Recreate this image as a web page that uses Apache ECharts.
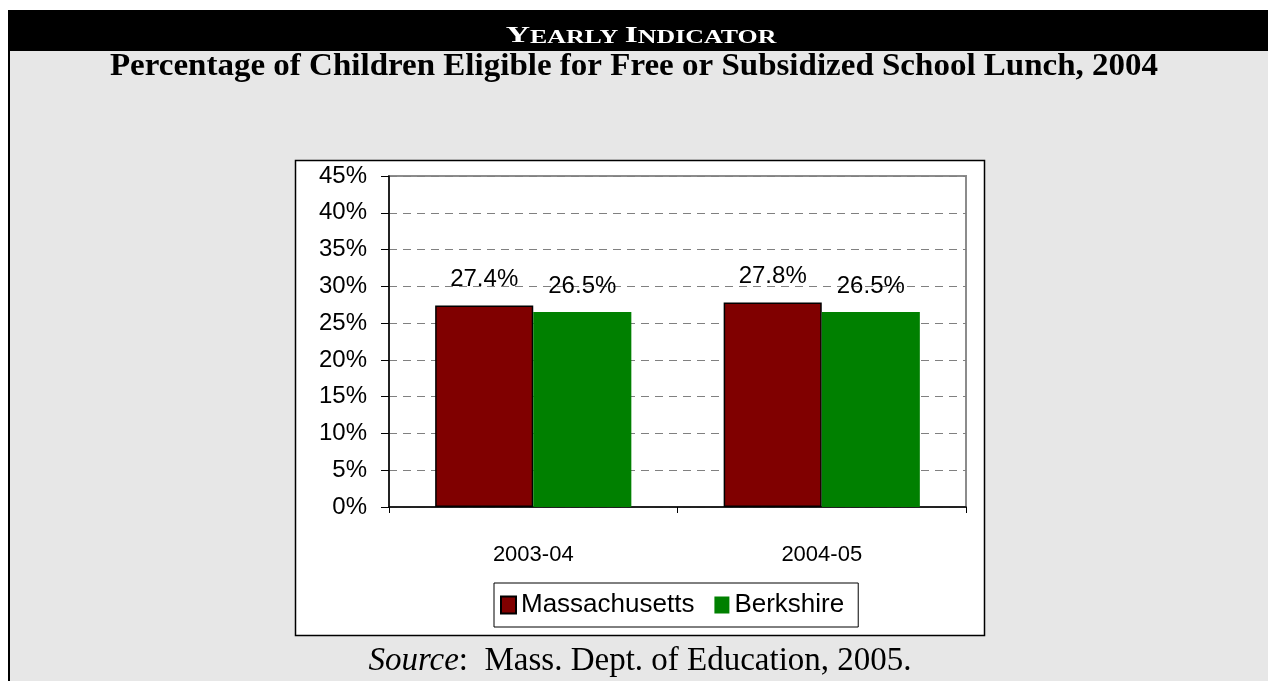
<!DOCTYPE html>
<html><head><meta charset="utf-8">
<script src="https://cdn.jsdelivr.net/npm/echarts@6/dist/echarts.min.js"></script>
<style>html,body{margin:0;padding:0;background:#fff}#c{width:1268px;height:681px}</style>
</head><body><div id="c"></div>
<script>
const categories = ['2003-04', '2004-05'];
const seriesNames = ['Massachusetts', 'Berkshire'];
const massachusetts = [27.4, 27.8];
const berkshire = [26.5, 26.5];
const yTicks = [0, 5, 10, 15, 20, 25, 30, 35, 40, 45];

const chart = echarts.init(document.getElementById('c'), null, {renderer: 'canvas'});
const sans = '"Liberation Sans", Arial, sans-serif';
const serif = '"Liberation Serif", "Times New Roman", serif';

chart.setOption({
  animation: false,
  backgroundColor: '#ffffff',
  graphic: [
    {type: 'rect', z: -10, silent: true, shape: {x: 8, y: 10, width: 1260, height: 671}, style: {fill: '#e7e7e7'}},
    {type: 'rect', z: -9, silent: true, shape: {x: 8, y: 10, width: 1260, height: 41}, style: {fill: '#000'}},
    {type: 'rect', z: -9, silent: true, shape: {x: 8, y: 10, width: 2, height: 671}, style: {fill: '#000'}},
    {type: 'rect', z: -8, silent: true, shape: {x: 295.5, y: 160.5, width: 689, height: 475}, style: {fill: '#fff', stroke: '#000', lineWidth: 1.5}},
    {type: 'text', z: 10, silent: true, x: 641, y: 48, scaleX: 1.4, scaleY: 1, originX: 0, originY: 0,
      style: {text: '{b|Y}{s|EARLY }{b|I}{s|NDICATOR}', fill: '#fff', align: 'center', verticalAlign: 'bottom',
        rich: {b: {fontFamily: serif, fontWeight: 'bold', fontSize: 24, fill: '#fff', verticalAlign: 'bottom'},
               s: {fontFamily: serif, fontWeight: 'bold', fontSize: 18.5, fill: '#fff', verticalAlign: 'bottom'}}}},
    {type: 'text', z: 10, silent: true, x: 634, y: 51, scaleX: 1.065, scaleY: 1, originX: 0, originY: 0,
      style: {text: 'Percentage of Children Eligible for Free or Subsidized School Lunch, 2004', fill: '#000',
        align: 'center', verticalAlign: 'top', font: 'bold 31px ' + serif}},
    {type: 'text', z: 10, silent: true, x: 640, y: 645,
      style: {text: '{i|Source}{n|:  Mass. Dept. of Education, 2005.}', align: 'center', verticalAlign: 'top',
        rich: {i: {fontFamily: serif, fontStyle: 'italic', fontSize: 33, fill: '#000'},
               n: {fontFamily: serif, fontSize: 33, fill: '#000'}}}}
  ],
  grid: {left: 389, right: 302, top: 176, bottom: 174, show: true, borderColor: '#8c8c8c', borderWidth: 2, backgroundColor: 'transparent'},
  legend: {
    data: seriesNames, left: 494, top: 583, icon: 'rect', itemWidth: 15, itemHeight: 17, itemGap: 20,
    padding: [9, 14, 9, 6], borderColor: '#000', borderWidth: 1, backgroundColor: '#fff',
    textStyle: {fontFamily: sans, fontSize: 26, color: '#000'}
  },
  xAxis: {
    type: 'category', data: categories,
    axisLine: {lineStyle: {color: '#000', width: 1.5}},
    axisTick: {show: true, length: 6, lineStyle: {color: '#000'}},
    axisLabel: {fontFamily: sans, fontSize: 22, color: '#000', margin: 37},
    splitLine: {show: false}
  },
  yAxis: {
    type: 'value', min: 0, max: 45, interval: 5,
    axisLine: {show: true, lineStyle: {color: '#000', width: 1.5}},
    axisTick: {show: true, length: 8, lineStyle: {color: '#000'}},
    axisLabel: {fontFamily: sans, fontSize: 24, color: '#000', margin: 22,
      formatter: function (v) { return yTicks.indexOf(v) >= 0 ? v + '%' : ''; }},
    splitLine: {show: true, lineStyle: {color: '#808080', type: [8, 6], width: 1}}
  },
  series: [
    {name: seriesNames[0], type: 'bar', data: massachusetts, barGap: '0%', barCategoryGap: '32%',
      itemStyle: {color: '#800000', borderColor: '#000', borderWidth: 1.5},
      label: {show: true, position: 'top', distance: 14, formatter: '{c}%', fontFamily: sans, fontSize: 24, color: '#000'}},
    {name: seriesNames[1], type: 'bar', data: berkshire,
      itemStyle: {color: '#008000'},
      label: {show: true, position: 'top', distance: 14, formatter: '{c}%', fontFamily: sans, fontSize: 24, color: '#000'}}
  ]
});
</script></body></html>
